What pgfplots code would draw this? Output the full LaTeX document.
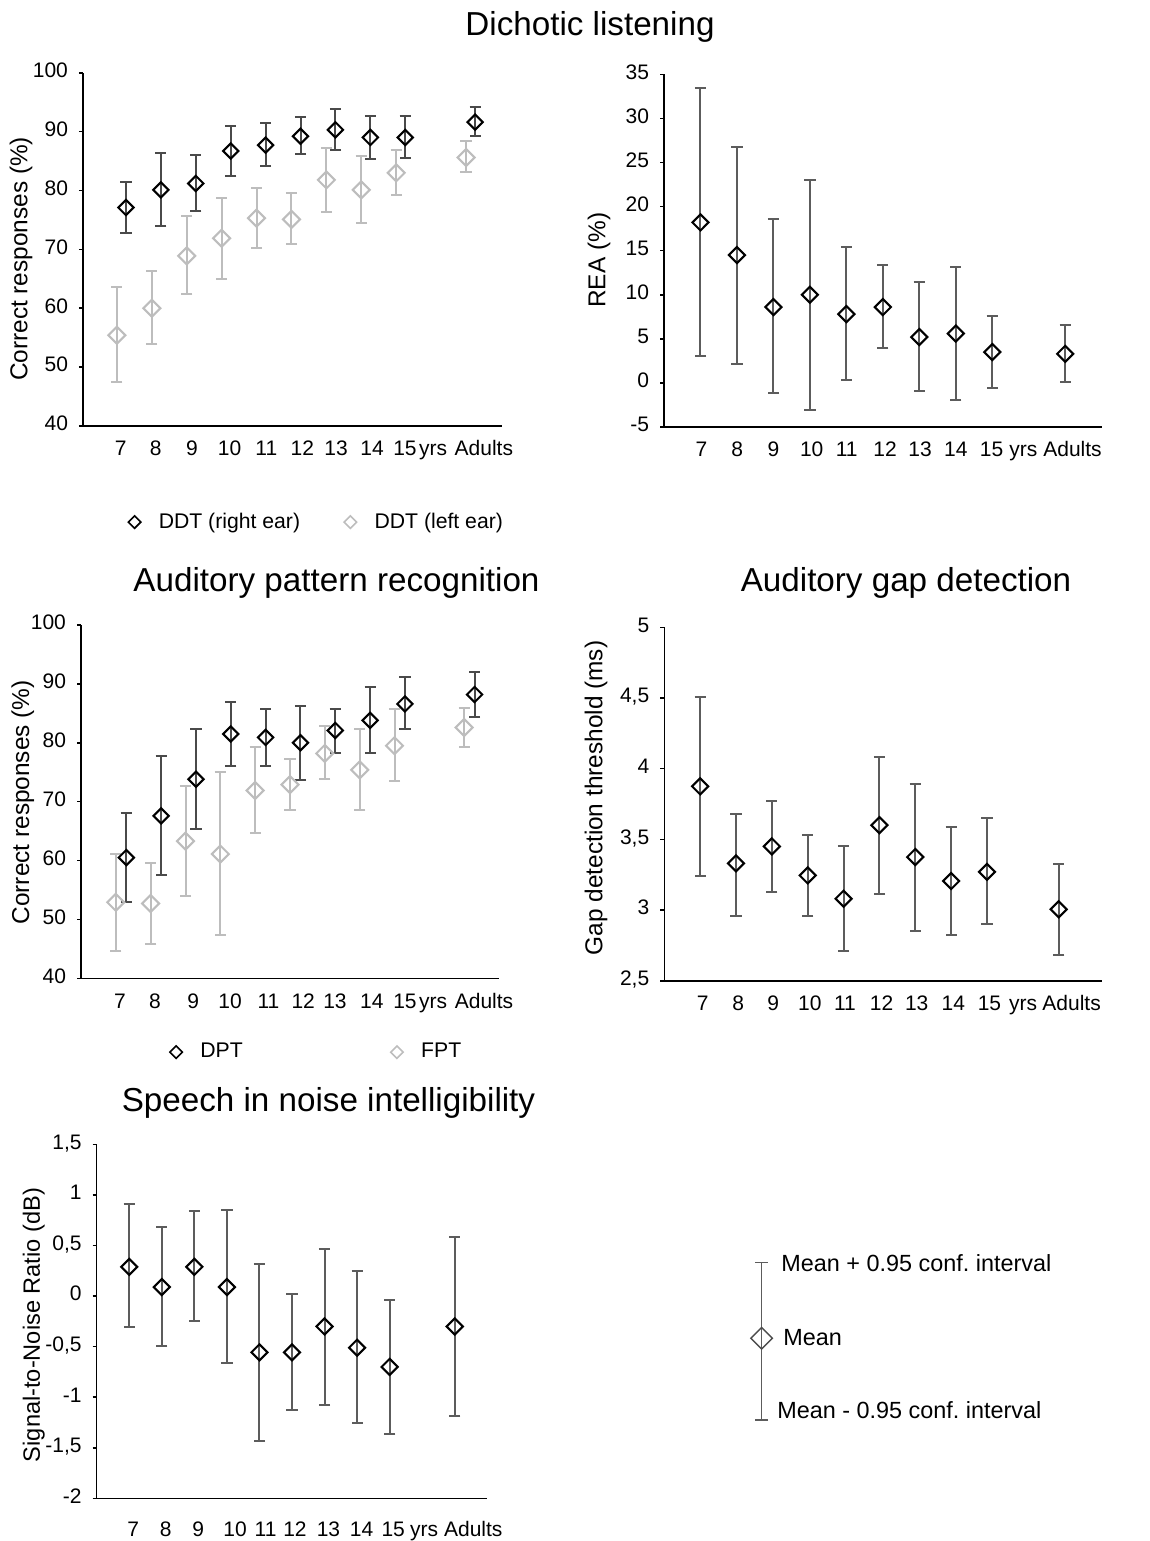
\documentclass[border=0pt]{standalone}
\usepackage{fontspec}
\setmainfont{Liberation Sans}
\usepackage{pgfplots}
\usepackage{pgfplotstable}
\pgfplotsset{compat=1.18}
\frenchspacing

\definecolor{barDark}{HTML}{4A4A4A}
\definecolor{barMid}{HTML}{5C5C5C}
\definecolor{lightSer}{HTML}{BDBDBD}

% x: position, y: mean, lo/hi: 0.95 conf. interval
\pgfplotstableread{
x y lo hi
1.13 77.1 72.8 81.4
2.13 80.1 73.9 86.4
3.13 81.2 76.6 86.0
4.13 86.7 82.5 91.0
5.13 87.7 84.2 91.5
6.13 89.2 86.2 92.4
7.13 90.3 86.9 93.8
8.13 89.0 85.3 92.7
9.13 89.0 85.6 92.6
11.13 91.6 89.3 94.1
}\ddtright
\pgfplotstableread{
x y lo hi
0.87 55.4 47.4 63.6
1.87 60.0 53.9 66.3
2.87 68.9 62.4 75.7
3.87 71.9 64.9 78.8
4.87 75.3 70.3 80.4
5.87 75.1 70.9 79.6
6.87 81.8 76.4 87.2
7.87 80.1 74.4 85.9
8.87 83.0 79.3 86.8
10.87 85.6 83.1 88.4
}\ddtleft
\pgfplotstableread{
x y lo hi
1 18.2 3.0 33.4
2 14.5 2.1 26.8
3 8.6 -1.2 18.6
4 10.0 -3.1 23.0
5 7.8 0.3 15.4
6 8.6 4.0 13.4
7 5.2 -0.9 11.4
8 5.6 -1.9 13.1
9 3.5 -0.6 7.6
11 3.3 0.1 6.6
}\rea
\pgfplotstableread{
x y lo hi
1.15 60.5 53.0 68.1
2.15 67.6 57.5 77.8
3.15 73.8 65.3 82.3
4.15 81.5 76.1 87.0
5.15 80.9 76.1 85.7
6.15 80.0 73.7 86.2
7.15 82.1 78.3 85.7
8.15 83.8 78.2 89.5
9.15 86.6 82.3 91.1
11.15 88.2 84.4 92.1
}\dpt
\pgfplotstableread{
x y lo hi
0.85 52.9 44.7 61.1
1.85 52.7 45.9 59.6
2.85 63.3 54.0 72.7
3.85 61.1 47.4 75.0
4.85 71.9 64.7 79.2
5.85 72.9 68.6 77.3
6.85 78.2 73.8 82.8
7.85 75.4 68.5 82.4
8.85 79.5 73.5 85.8
10.85 82.6 79.3 85.9
}\fpt
\pgfplotstableread{
x y lo hi
1 3.875 3.24 4.51
2 3.33 2.96 3.68
3 3.45 3.125 3.77
4 3.245 2.96 3.53
5 3.08 2.71 3.45
6 3.60 3.11 4.08
7 3.375 2.85 3.89
8 3.205 2.82 3.59
9 3.27 2.90 3.65
11 3.005 2.68 3.325
}\gap
\pgfplotstableread{
x y lo hi
1 0.29 -0.31 0.91
2 0.09 -0.49 0.68
3 0.29 -0.25 0.845
4 0.09 -0.66 0.85
5 -0.556 -1.43 0.32
6 -0.556 -1.13 0.024
7 -0.30 -1.08 0.47
8 -0.51 -1.25 0.25
9 -0.70 -1.36 -0.04
11 -0.30 -1.19 0.585
}\snr

\pgfplotsset{
  panel/.style={
    scale only axis, clip=false,
    axis lines*=left,
    axis line style={line width=0.8pt, black},
    tick align=outside, major tick length=2pt,
    ytick style={line width=0.8pt, black},
    xtick style={draw=none},
    tick label style={font=\fontsize{10.5}{12}\selectfont},
    label style={font=\fontsize{12.2}{14}\selectfont},
    typeset ticklabels with strut,
    /pgf/number format/assume math mode=true,
    /pgf/number format/use comma,
    xticklabels={7,8,9,10,11,12,13,14,15,yrs,Adults},
    yticklabel style={xshift=-2pt},
  },
  ylab/.style 2 args={every axis y label/.append style={at={(axis description cs:#1,#2)}, anchor=center}},
  errs/.style={
    error bars/y dir=both, error bars/y explicit,
    error bars/error bar style={line width=1pt},
    error bars/error mark options={rotate=90, mark size=2.8pt, line width=1pt},
  },
  darkser/.style={only marks, color=barDark, mark=square, mark size=2.7pt,
    mark options={rotate=45, draw=black, line width=1.05pt, fill=none}, errs},
  lightser/.style={only marks, color=lightSer, mark=square, mark size=3.0pt,
    mark options={rotate=45, draw=lightSer, line width=1.05pt, fill=none}, errs},
  monoser/.style={only marks, color=barMid, mark=square, mark size=2.85pt,
    mark options={rotate=45, draw=black, line width=1.05pt, fill=none}, errs},
  keyimg/.style={only marks, mark=square, mark size=2.2pt,
    mark options={rotate=45, draw=#1, line width=0.8pt}},
  table/ci/.style={x=x, y=y,
    y error plus expr=\thisrow{hi}-\thisrow{y},
    y error minus expr=\thisrow{y}-\thisrow{lo}},
}

\begin{document}
\begin{tikzpicture}
\path[use as bounding box] (0,0) rectangle (575pt,-770.5pt);

\tikzset{ttl/.style={font=\fontsize{16.6}{19}\selectfont, anchor=base}}
\node[ttl] at (295pt,-18pt) {Dichotic listening};
\node[ttl] at (168.25pt,-295.5pt) {Auditory pattern recognition};
\node[ttl] at (453pt,-295.5pt) {Auditory gap detection};
\node[ttl] at (164.25pt,-555.5pt) {Speech in noise intelligibility};

% Dichotic listening: correct responses
\begin{axis}[panel, at={(41.5pt,-213pt)}, anchor=south west,
  width=209.5pt, height=176.65pt,
  xmin=-0.1, xmax=11.9, ymin=40, ymax=100, ytick={40,50,...,100},
  xtick={0.98,1.98,3.02,4.1,5.15,6.18,7.15,8.18,9.12,9.93,11.38},
  xticklabel style={yshift=-1pt},
  ylabel={Correct responses (\%)}, ylab={-0.148}{0.473},
  legend style={at={(axis description cs:0.56,-0.272)}, anchor=center,
    draw=none, fill=none, legend columns=2,
    font=\fontsize{10.6}{12}\selectfont,
    /tikz/every odd column/.append style={column sep=7pt},
    /tikz/every even column/.append style={column sep=20pt}},
]
\addplot[lightser, forget plot] table[ci] {\ddtleft};
\addplot[darkser, forget plot] table[ci] {\ddtright};
\addlegendimage{keyimg=black}
\addlegendentry{DDT (right ear)}
\addlegendimage{keyimg=lightSer}
\addlegendentry{DDT (left ear)}
\end{axis}

% Dichotic listening: REA
\begin{axis}[panel, at={(332pt,-213.5pt)}, anchor=south west,
  width=218.85pt, height=176.35pt,
  xmin=0, xmax=12, ymin=-5, ymax=35, ytick={-5,0,...,35},
  xtick={1.03,2.01,3.0,4.05,5.01,6.06,7.02,8.0,8.98,9.85,11.2},
  xticklabel style={yshift=-1pt},
  ylabel={REA (\%)}, ylab={-0.1485}{0.473},
]
\addplot[monoser] table[ci] {\rea};
\end{axis}

% Auditory pattern recognition
\begin{axis}[panel, at={(40.5pt,-489.15pt)}, anchor=south west,
  width=209pt, height=176.65pt,
  xmin=-0.15, xmax=11.85, ymin=40, ymax=100, ytick={40,50,...,100},
  xtick={0.97,1.97,3.07,4.13,5.23,6.23,7.14,8.2,9.15,9.96,11.42},
  xticklabel style={yshift=-1pt},
  ylabel={Correct responses (\%)}, ylab={-0.139}{0.498},
  legend style={at={(axis description cs:0.566,-0.209)}, anchor=center,
    draw=none, fill=none, legend columns=2,
    font=\fontsize{10.6}{12}\selectfont,
    /tikz/every odd column/.append style={column sep=7pt},
    /tikz/every even column/.append style={column sep=72pt}},
]
\addplot[lightser, forget plot] table[ci] {\fpt};
\addplot[darkser, forget plot] table[ci] {\dpt};
\addlegendimage{keyimg=black}
\addlegendentry{DPT}
\addlegendimage{keyimg=lightSer}
\addlegendentry{FPT}
\end{axis}

% Auditory gap detection
\begin{axis}[panel, at={(332.15pt,-490.35pt)}, anchor=south west,
  width=218.7pt, height=176.7pt,
  xmin=0, xmax=12.2, ymin=2.5, ymax=5, ytick={2.5,3,...,5},
  xtick={1.07,2.06,3.04,4.06,5.04,6.06,7.04,8.06,9.07,10.01,11.36},
  xticklabel style={yshift=-1pt},
  ylabel={Gap detection threshold (ms)}, ylab={-0.156}{0.517},
]
\addplot[monoser] table[ci] {\gap};
\end{axis}

% Speech in noise intelligibility
\begin{axis}[panel, at={(48.35pt,-749.15pt)}, anchor=south west,
  width=195.3pt, height=176.9pt,
  xmin=0, xmax=12, ymin=-2, ymax=1.5, ytick={-2,-1.5,...,1.5},
  xtick={1.12,2.12,3.12,4.25,5.19,6.09,7.12,8.14,9.11,10.06,11.57},
  xticklabel style={yshift=-5pt},
  label style={font=\fontsize{11.8}{14}\selectfont},
  ylabel={Signal-to-Noise Ratio (dB)}, ylab={-0.161}{0.49},
]
\addplot[monoser] table[ci] {\snr};
\end{axis}

% key: mean and 0.95 confidence interval
\begin{axis}[at={(380.85pt,-670.7pt)}, anchor=center, scale only axis,
  width=10pt, height=78.65pt, xmin=-1, xmax=1, ymin=-1, ymax=1,
  hide axis, clip=false]
\addplot[only marks, color=barMid, mark=square, mark size=3.8pt,
  mark options={rotate=45, draw=black!70, line width=0.7pt, fill=none},
  error bars/y dir=both, error bars/y explicit,
  error bars/error bar style={line width=0.7pt},
  error bars/error mark options={rotate=90, mark size=3.2pt, line width=0.7pt}]
  coordinates {(0,0.04) += (0,0.96) -= (0,1.04)};
\tikzset{keytxt/.style={anchor=west, font=\fontsize{11.7}{14}\selectfont}}
\node[keytxt, xshift=6.3pt] at (axis cs:0,1) {Mean + 0.95 conf. interval};
\node[keytxt, xshift=7.3pt] at (axis cs:0,0.055) {Mean};
\node[keytxt, xshift=4.3pt] at (axis cs:0,-0.873) {Mean - 0.95 conf. interval};
\end{axis}
\end{tikzpicture}
\end{document}
